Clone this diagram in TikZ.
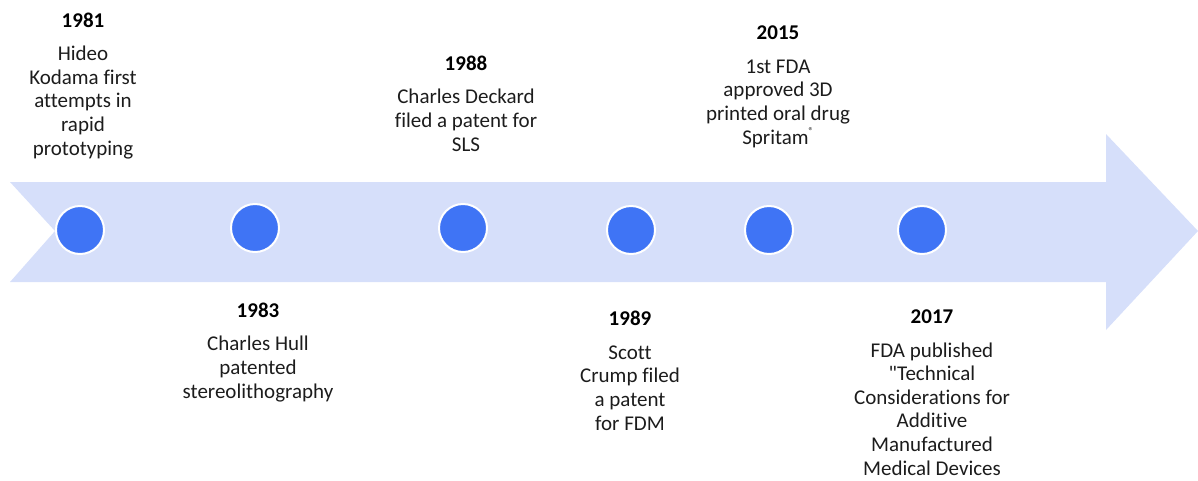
\documentclass[tikz,border=0pt]{standalone}
\usepackage{fontspec}
\setmainfont{Carlito}[Ligatures={TeX,NoCommon}]
\usetikzlibrary{positioning}
\definecolor{bandblue}{HTML}{D6DFFA}
\definecolor{dotblue}{HTML}{3F74F5}
\definecolor{textgray}{HTML}{1C1C1C}
% guillemet droit, sans passer par tex-text
\newcommand{\straightquote}{\XeTeXglyph\XeTeXcharglyph"22\relax}

\begin{document}
\begin{tikzpicture}[
		x=1pt, y=-1pt,
		dot/.style={circle, fill=dotblue, draw=white, line width=2pt, minimum size=48pt, inner sep=0pt},
		% base = ligne du bas du texte
		event/.style={align=center, anchor=base, text=textgray, inner sep=0pt,
			font=\fontsize{21}{23.6}\selectfont},
		]

		\useasboundingbox (0,0) rectangle (1198,480);

		% --- la bande ---
		\fill[bandblue] (10,182) -- (1106,182) -- (1106,134) -- (1198,231)
			-- (1106,330) -- (1106,282) -- (10,282) -- (55,231) -- cycle;

		% --- les points ---
		\node[dot] (d1981) at (80, 230) {};
		\node[dot] (d1983) at (255, 228) {};
		\node[dot] (d1988) at (463, 228) {};
		\node[dot] (d1989) at (631, 230) {};
		\node[dot] (d2015) at (769, 230) {};
		\node[dot] (d2017) at (922, 230) {};

		% --- les textes ---
		\node[event] (t1981) at (83, 155) {\textcolor{black}{\textbf{1981}}\\[10pt]Hideo\\Kodama first\\attempts in\\rapid\\prototyping};
		\node[event] (t1983) at (258, 398) {\textcolor{black}{\textbf{1983}}\\[10pt]Charles Hull\\patented\\stereolithography};
		\node[event] (t1988) at (466, 151) {\textcolor{black}{\textbf{1988}}\\[10pt]Charles Deckard\\filed a patent for\\SLS};
		\node[event] (t1989) at (630, 430) {\textcolor{black}{\textbf{1989}}\\[10pt]Scott\\Crump filed\\a patent\\for FDM};
		\node[event] (t2015) at (778, 144) {\textcolor{black}{\textbf{2015}}\\[10pt]1st FDA\\approved 3D\\printed oral drug\\Spritam\raisebox{0.9ex}{\fontsize{10}{10}\selectfont ®}};
		\node[event] (t2017) at (932, 475) {\textcolor{black}{\textbf{2017}}\\[10pt]FDA published\\\straightquote Technical\\Considerations for\\Additive\\Manufactured\\Medical Devices};

	\end{tikzpicture}
\end{document}
